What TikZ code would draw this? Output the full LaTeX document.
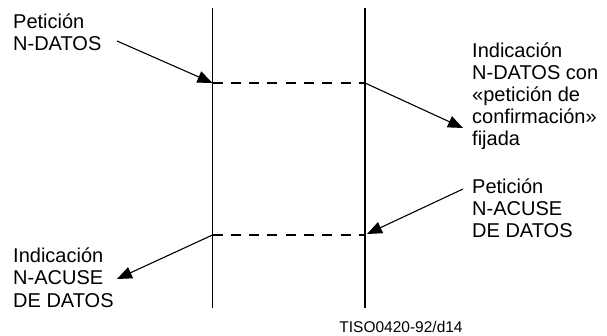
\documentclass[tikz,border=0pt]{standalone}
\usepackage{fontspec}
\setmainfont{Liberation Sans}
\usetikzlibrary{arrows.meta}
\begin{document}
\begin{tikzpicture}[x=1pt,y=-1pt,
  life/.style={line width=1.8pt},
  msg/.style={dashed,line width=1.8pt,dash pattern=on 10pt off 8.3pt},
  sig/.style={line width=1.1pt,-{Triangle[length=15pt,width=12pt]}},
  lbl/.style={anchor=base west,align=left,inner sep=0pt,font=\fontsize{20}{22}\selectfont},
  ref/.style={anchor=base,inner sep=0pt,font=\fontsize{15.5}{18}\selectfont}]
\useasboundingbox (0,0) rectangle (607,336);
% lifelines
\coordinate (Lt) at (212.5,8);
\coordinate (Lb) at (212.5,308);
\coordinate (Rt) at (365,8);
\coordinate (Rb) at (365,308);
\draw[life] (Lt) -- (Lb);
\draw[life] (Rt) -- (Rb);
% event points
\coordinate (L1) at (212.5,83);
\coordinate (R1) at (365,83);
\coordinate (L2) at (212.5,235);
\coordinate (R2) at (365,235);
\coordinate (R2t) at (367,234);
\draw[msg] (L1) -- (R1);
\draw[msg] (L2) -- (R2);
% labels (base = baseline of last line)
\node[lbl] (t1) at (13,51) {Petición\\N-DATOS};
\node[lbl] (t2) at (472,146) {Indicación\\N-DATOS con\\«petición de\\confirmación»\\fijada};
\node[lbl] (t3) at (472,238) {Petición\\N-ACUSE\\DE DATOS};
\node[lbl] (t4) at (13,307) {Indicación\\N-ACUSE\\DE DATOS};
\node[ref] (t5) at (401,332) {TISO0420-92/d14};
% arrow ends
\coordinate (a1s) at (117,41);
\coordinate (a2e) at (463,128);
\coordinate (a3s) at (463,189);
\coordinate (a4e) at (117,279);
\draw[sig] (a1s) -- (L1);
\draw[sig] (R1) -- (a2e);
\draw[sig] (a3s) -- (R2t);
\draw[sig] (L2) -- (a4e);
\end{tikzpicture}
\end{document}
